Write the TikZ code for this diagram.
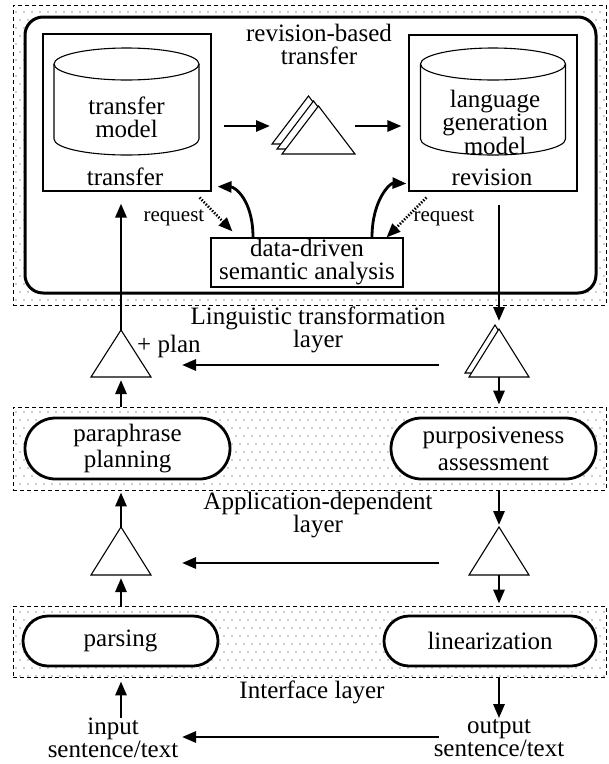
\documentclass[tikz,border=0pt]{standalone}
\usepackage{fontspec}
\setmainfont{Liberation Serif}
\usetikzlibrary{arrows.meta,patterns,shapes.misc}

% dotted fill of the three layers
\pgfdeclarepatternformonly{layerdots}{\pgfqpoint{-1pt}{-1pt}}{\pgfqpoint{5pt}{9pt}}{\pgfqpoint{8pt}{16pt}}{%
  \pgfpathcircle{\pgfqpoint{0pt}{0pt}}{0.7pt}%
  \pgfpathcircle{\pgfqpoint{4pt}{8pt}}{0.7pt}%
  \pgfusepath{fill}}

\begin{document}
\begin{tikzpicture}[x=1pt, y=-1pt,
    >={Triangle[length=14pt,width=11pt]},
    flow/.style={->, line width=2.8pt},
    ask/.style={->, line width=2.6pt, dash pattern=on 1.5pt off 1.5pt},
    thinline/.style={line width=1.1pt},
    layer/.style={draw, line width=0.8pt, dash pattern=on 4pt off 3pt,
      pattern=layerdots, pattern color=black!85, inner sep=0pt},
    plainbox/.style={draw, thinline, fill=white, inner sep=0pt},
    pill/.style={draw, rounded rectangle, line width=2.8pt, fill=white},
    lbl/.style={inner sep=0pt, align=center, font=\fontsize{25}{#1}\selectfont},
    lbl/.default=24,
    small/.style={inner sep=0pt, font=\fontsize{21}{22}\selectfont}]
  \useasboundingbox (0,0) rectangle (609,764);

  % layers
  \node[layer, minimum width=593, minimum height=300] (toplayer) at (309.5,155) {};
  \node[layer, minimum width=593, minimum height=83] (applayer) at (309.5,448.5) {};
  \node[layer, minimum width=593, minimum height=71] (intlayer) at (309.5,641.5) {};

  % revision-based transfer
  \node[draw, line width=3pt, fill=white, rounded corners=18pt, inner sep=0pt,
    minimum width=571, minimum height=276] (rbt) at (310.5,155) {};
  \node[lbl=23] (rbtitle) at (319,44) {revision-based\\transfer};
  \node[plainbox, minimum width=168, minimum height=157] (trbox) at (127,112.5) {};
  \node[plainbox, minimum width=168, minimum height=156] (rvbox) at (493,113) {};
  \foreach \cx in {126.5,493} {
    \draw[thinline] (\cx,64) ellipse [x radius=72.5, y radius=16];
    \draw[thinline] (\cx-72.5,64) -- (\cx-72.5,139)
      arc[start angle=180, end angle=0, x radius=72.5, y radius=16] -- (\cx+72.5,64);
  }
  \node[lbl=23] (trmodel) at (126.5,117) {transfer\\model};
  \node[lbl=23.5] (lgmodel) at (495,122) {language\\generation\\model};
  \node[lbl] (trname) at (125,177) {transfer};
  \node[lbl] (rvname) at (492,177) {revision};
  \node[plainbox, lbl=23, minimum width=192, minimum height=49] (sem) at (307,262.5)
    {data-driven\\semantic analysis};
  \node[small] (reqL) at (174,218) {request};
  \node[small] (reqR) at (444,218) {request};

  % stacked trees
  \foreach \d in {10,5,0}
    \draw[thinline, fill=white] (318.5-\d,106-\d) -- (355-\d,154-\d) -- (282-\d,154-\d) -- cycle;
  \coordinate (stackin) at (270,126);
  \coordinate (stackout) at (355,126);
  \foreach \d in {4,0}
    \draw[thinline, fill=white] (499-\d,329-\d) -- (529-\d,377-\d) -- (469-\d,377-\d) -- cycle;
  \coordinate (rA) at (499,329);
  \coordinate (rB) at (499,377);
  \draw[thinline, fill=white] (121,330) -- (151,377) -- (91,377) -- cycle;
  \coordinate (lA) at (121,330);
  \coordinate (lB) at (121,377);
  \draw[thinline, fill=white] (121,527) -- (151,575) -- (91,575) -- cycle;
  \coordinate (lC) at (121,527);
  \coordinate (lD) at (121,575);
  \draw[thinline, fill=white] (499,527) -- (529,575) -- (469,575) -- cycle;
  \coordinate (rC) at (499,527);
  \coordinate (rD) at (499,575);
  \node[lbl, anchor=west] (plan) at (137,346) {+ plan};

  % modules
  \node[pill, lbl=26, minimum width=205, minimum height=61] (para) at (127.5,448.5) {paraphrase\\planning};
  \node[pill, lbl=27, minimum width=205, minimum height=61] (purp) at (493.5,448.5) {purposiveness\\assessment};
  \node[pill, lbl, minimum width=195, minimum height=50] (pars) at (120.5,641) {parsing};
  \node[pill, lbl, minimum width=212, minimum height=50] (lin) at (490,641) {linearization};

  % layer names and ends
  \node[lbl=17] (lingl) at (318,330) {Linguistic transformation\\layer};
  \node[lbl=20] (appl) at (318,515) {Application-dependent\\layer};
  \node[lbl] (intl) at (312,692) {Interface layer};
  \node[lbl=23] (input) at (113,738) {input\\sentence/text};
  \node[lbl=23] (output) at (499,738) {output\\sentence/text};
  \coordinate (outL) at (439,737);
  \coordinate (inR) at (182,737);

  % connectors
  \draw[flow, shorten <=12pt] (trbox.east |- stackin) -- (stackin);
  \draw[flow, shorten >=7pt] (stackout) -- (rvbox.west |- stackout);
  \draw[ask] ([shift={(-12,6)}]trbox.south east) -- ([shift={(22,-6)}]sem.north west);
  \draw[ask] ([shift={(18,6)}]rvbox.south west) -- ([shift={(-17,0)}]sem.north east);
  \draw[flow] ([xshift=-54pt]sem.north) .. controls (253,200) and (235,187) .. ([shift={(6,-5)}]trbox.south east);
  \draw[flow] ([xshift=65pt]sem.north) .. controls (372,200) and (390,183) .. ([shift={(-2,-8)}]rvbox.south west);
  \draw[flow, shorten >=12pt] (lA) -- (lA |- trbox.south);
  \draw[flow, shorten <=13pt, shorten >=8pt] (rA |- rvbox.south) -- (rA);
  \draw[flow, shorten >=3pt] (lA |- applayer.north) -- (lB);
  \draw[flow, shorten >=2pt] (rB) -- (rB |- applayer.north);
  \draw[flow] ([shift={(-60,-12)}]rB) -- ([shift={(61,-12)}]lB);
  \draw[flow, shorten >=2pt] (lC) -- (lC |- applayer.south);
  \draw[flow, shorten >=2pt] (rC |- applayer.south) -- (rC);
  \draw[flow, shorten >=3pt] (lD |- intlayer.north) -- (lD);
  \draw[flow, shorten >=2pt] (rD) -- (rD |- intlayer.north);
  \draw[flow] ([shift={(-60,-12)}]rD) -- ([shift={(61,-12)}]lD);
  \draw[flow, shorten >=4pt] (input.north -| lD) -- (lD |- intlayer.south);
  \draw[flow, shorten >=1pt] (rD |- intlayer.south) -- (output.north -| rD);
  \draw[flow] (outL) -- (inR);
\end{tikzpicture}
\end{document}
